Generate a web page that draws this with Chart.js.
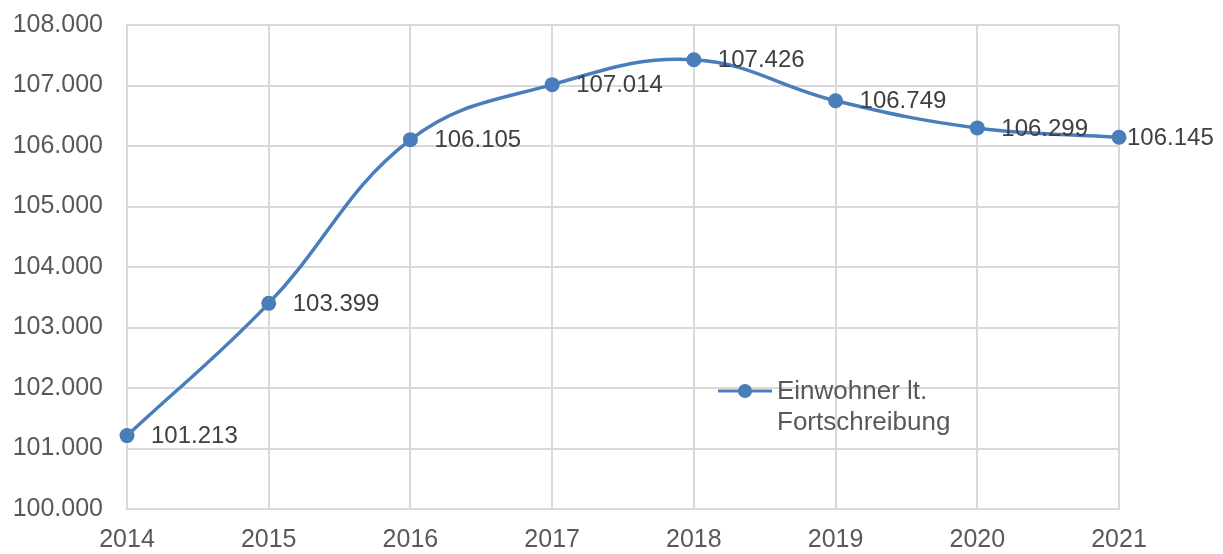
<!DOCTYPE html>
<html>
<head>
<meta charset="utf-8">
<script src="https://cdn.jsdelivr.net/npm/chart.js@4/dist/chart.umd.min.js"></script>
<style>
html,body{margin:0;padding:0;background:#fff;}
#wrap{width:1223px;height:554px;position:relative;}
</style>
</head>
<body>
<div id="wrap"><canvas id="c" width="1223" height="554"></canvas></div>
<script>
const years = ['2014','2015','2016','2017','2018','2019','2020','2021'];
const einwohner = [101213, 103399, 106105, 107014, 107426, 106749, 106299, 106145];
const seriesName = ['Einwohner lt.', 'Fortschreibung'];
const yMin = 100000, yMax = 108000, yStep = 1000;

const blue = '#4a7ebb';
const FONT = '"Liberation Sans", Arial, sans-serif';
const fmt = v => v.toLocaleString('de-DE');

const labelPlugin = {
  id: 'labels',
  afterDatasetsDraw(chart) {
    const ctx = chart.ctx;
    const meta = chart.getDatasetMeta(0);
    ctx.save();
    ctx.font = '24px ' + FONT;
    ctx.fillStyle = '#404040';
    ctx.textAlign = 'left';
    ctx.textBaseline = 'middle';
    meta.data.forEach((pt, i) => {
      const t = fmt(einwohner[i]);
      const w = ctx.measureText(t).width;
      let x = pt.x + 24;
      if (x + w > chart.width - 10) x = pt.x + 8;
      ctx.fillText(t, x, pt.y + 1);
    });
    // legend
    const lx = 718, ly = 391;
    ctx.strokeStyle = blue;
    ctx.lineWidth = 3;
    ctx.beginPath();
    ctx.moveTo(lx, ly); ctx.lineTo(lx + 54, ly);
    ctx.stroke();
    ctx.fillStyle = blue;
    ctx.beginPath();
    ctx.arc(lx + 27, ly, 7, 0, Math.PI * 2);
    ctx.fill();
    ctx.font = '26px ' + FONT;
    ctx.fillStyle = '#595959';
    ctx.fillText(seriesName[0], lx + 59, ly + 1);
    ctx.fillText(seriesName[1], lx + 59, ly + 32);
    ctx.restore();
  }
};

new Chart(document.getElementById('c'), {
  type: 'line',
  data: {
    labels: years,
    datasets: [{
      label: seriesName.join(' '),
      data: einwohner,
      borderColor: blue,
      backgroundColor: blue,
      borderWidth: 3.5,
      pointRadius: 7.5,
      pointBackgroundColor: blue,
      pointBorderWidth: 0,
      tension: 0.4,
      cubicInterpolationMode: 'default',
      clip: false
    }]
  },
  options: {
    responsive: false,
    animation: false,
    devicePixelRatio: 1,
    layout: { padding: { left: 0, right: 104, top: 25, bottom: 0 } },
    plugins: { legend: { display: false }, tooltip: { enabled: false } },
    scales: {
      x: {
        offset: false,
        grid: { color: '#d9d9d9', lineWidth: 2, drawTicks: false },
        border: { color: '#d9d9d9', width: 2 },
        ticks: { color: '#595959', font: { size: 25, family: FONT }, padding: 16, maxRotation: 0 },
        afterFit(s) { s.height = 45; s.paddingLeft = 0; s.paddingRight = 0; }
      },
      y: {
        min: yMin, max: yMax,
        grid: { color: '#d9d9d9', lineWidth: 2, drawTicks: false },
        border: { color: '#d9d9d9', width: 2 },
        ticks: { stepSize: yStep, color: '#595959', font: { size: 25, family: FONT }, padding: 24, callback: v => fmt(v) },
        afterFit(s) { s.width = 127; s.paddingTop = 0; s.paddingBottom = 0; }
      }
    }
  },
  plugins: [labelPlugin]
});
</script>
</body>
</html>
